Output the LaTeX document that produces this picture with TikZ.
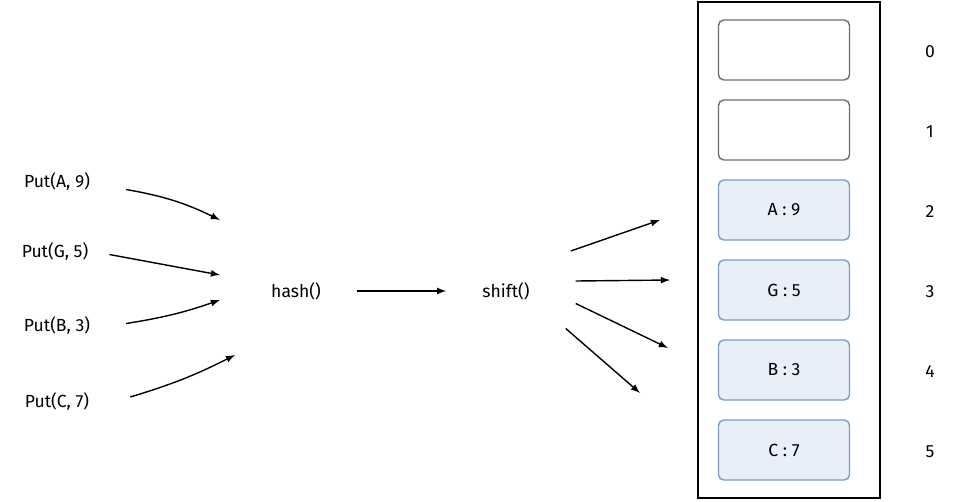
\documentclass[tikz,border=0pt]{standalone}
\usepackage{fontspec}
\setmainfont{Fira Sans}
\usetikzlibrary{positioning}
\definecolor{slotblue}{HTML}{E8EFF8}
\definecolor{slotedge}{HTML}{7E9CC4}
\definecolor{slotgray}{HTML}{6E6E6E}
\begin{document}
\begin{tikzpicture}[x=0.02cm,y=-0.02cm,
  lbl/.style={font=\normalsize},
  slot/.style={draw=slotgray,rounded corners=3pt,minimum width=2.62cm,minimum height=1.2cm,thick},
  full/.style={slot,draw=slotedge,fill=slotblue},
  arr/.style={-latex,thick}]
\useasboundingbox (0,0) rectangle (960,501);
% bucket array
\draw[thick] (698,2) rectangle (880,498);
\node[slot] (s0) at (784,50) {};
\node[slot] (s1) at (784,130) {};
\node[full] (s2) at (784,210) {A : 9};
\node[full] (s3) at (784,290) {G : 5};
\node[full] (s4) at (784,370) {B : 3};
\node[full] (s5) at (784,450) {C : 7};
\foreach \i/\y in {0/52,1/132,2/212,3/292,4/372,5/452}
  \node[lbl] (i\i) at (930,\y) {\i};

% inputs
\node[lbl] (pa) at (57,182) {Put(A, 9)};
\node[lbl] (pg) at (55,252) {Put(G, 5)};
\node[lbl] (pb) at (57,326) {Put(B, 3)};
\node[lbl] (pc) at (57,402) {Put(C, 7)};
\node[lbl] (hash) at (296,291) {hash()};
\node[lbl] (shift) at (506,291) {shift()};

% free ends
\coordinate (ha) at (220,220);
\coordinate (hg) at (220,275);
\coordinate (hb) at (220,300);
\coordinate (hc) at (235,355);
\coordinate (ta) at (660,220);
\coordinate (tg) at (670,280);
\coordinate (tb) at (668,348);
\coordinate (tc) at (640,393);

\draw[arr] ([xshift=0.6cm,yshift=-0.15cm]pa.east) to[bend left=8] (ha);
\draw[arr] ([xshift=0.3cm,yshift=-0.05cm]pg.east) -- (hg);
\draw[arr] ([xshift=0.6cm,yshift=0.05cm]pb.east) to[bend right=5] (hb);
\draw[arr] ([xshift=0.7cm,yshift=0.1cm]pc.east) to[bend right=5] (hc);
\draw[arr] ([xshift=0.6cm]hash.east) -- ([xshift=-0.6cm]shift.west);
\draw[arr] ([xshift=0.7cm,yshift=0.8cm]shift.east) -- (ta);
\draw[arr] ([xshift=0.8cm,yshift=0.2cm]shift.east) -- (tg);
\draw[arr] ([xshift=0.8cm,yshift=-0.25cm]shift.east) -- (tb);
\draw[arr] ([xshift=0.6cm,yshift=-0.75cm]shift.east) -- (tc);
\end{tikzpicture}
\end{document}
